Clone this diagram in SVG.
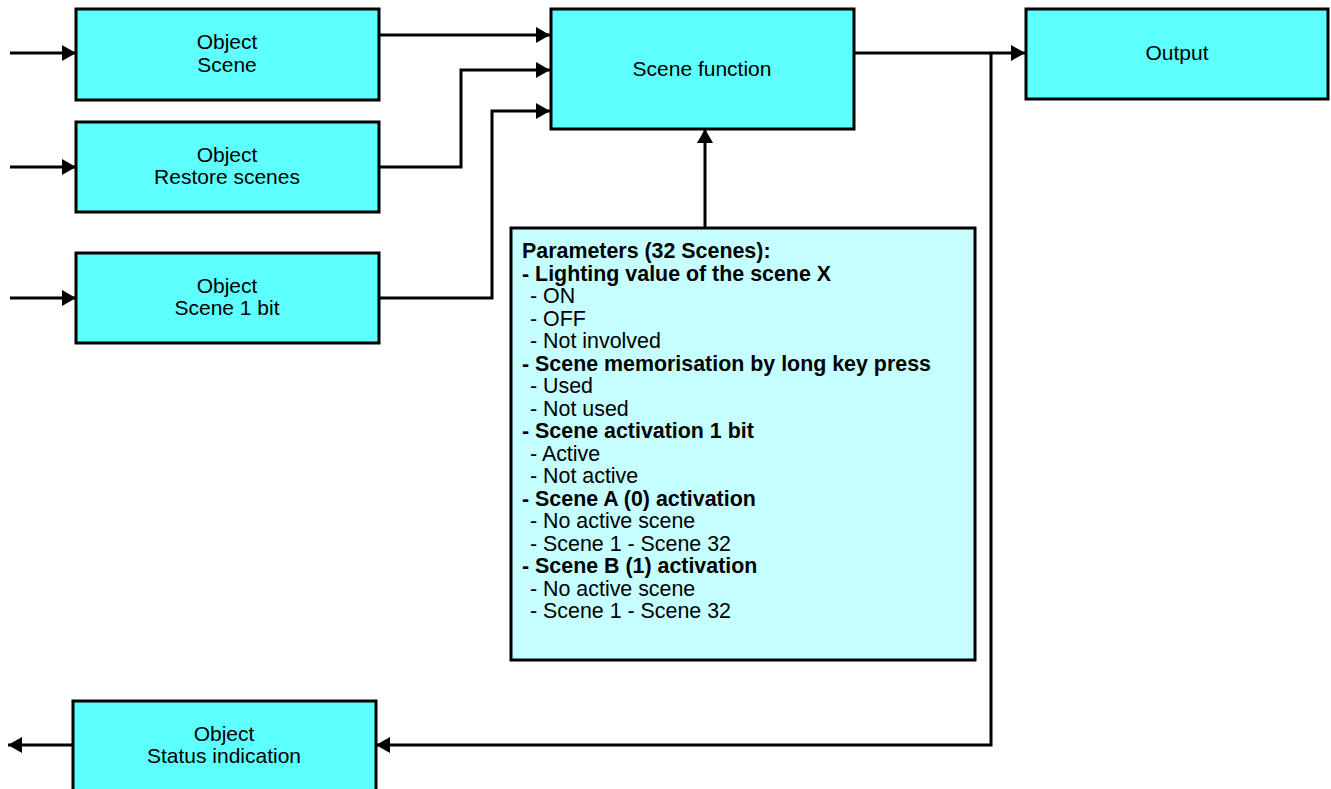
<svg xmlns="http://www.w3.org/2000/svg" width="1331" height="789" viewBox="0 0 1331 789">
<style>
.box{fill:#5effff;stroke:#000;stroke-width:3}
.pbox{fill:#c6ffff;stroke:#000;stroke-width:3}
.t{font-family:"Liberation Sans",Arial,Helvetica,sans-serif;font-size:21px;fill:#000;text-anchor:middle}
.p{font-family:"Liberation Sans",Arial,Helvetica,sans-serif;font-size:21.4px;fill:#000}
.b{font-weight:bold}
.c{fill:none;stroke:#000;stroke-width:3;marker-end:url(#ah)}
</style>
<defs>
<marker id="ah" viewBox="0 0 14 16" refX="14" refY="8" markerWidth="14" markerHeight="16" markerUnits="userSpaceOnUse" orient="auto">
<path d="M0,0 L14,8 L0,16 Z" fill="#000"/>
</marker>
</defs>
<rect width="1331" height="789" fill="#fff"/>
<g id="connectors">
<path class="c" d="M10,53 H76"/>
<path class="c" d="M10,167 H76"/>
<path class="c" d="M10,298 H76"/>
<path class="c" d="M379,35 H550"/>
<path class="c" d="M379,167 H461 V70 H550"/>
<path class="c" d="M379,298 H492 V111 H550"/>
<path class="c" d="M705,228 V129"/>
<path class="c" d="M854,53 H1025"/>
<path class="c" d="M991,53 V745 H376"/>
<path class="c" d="M73,745 H8"/>
</g>
<g id="obj-scene">
<rect class="box" x="76" y="9" width="303" height="91"/>
<text class="t" x="227" y="49">Object</text>
<text class="t" x="227" y="72">Scene</text>
</g>
<g id="obj-restore">
<rect class="box" x="76" y="122" width="303" height="90"/>
<text class="t" x="227" y="162">Object</text>
<text class="t" x="227" y="184">Restore scenes</text>
</g>
<g id="obj-scene1bit">
<rect class="box" x="76" y="253" width="303" height="90"/>
<text class="t" x="227" y="293">Object</text>
<text class="t" x="227" y="315">Scene 1 bit</text>
</g>
<g id="scene-function">
<rect class="box" x="551" y="9" width="303" height="120"/>
<text class="t" x="702" y="76">Scene function</text>
</g>
<g id="output">
<rect class="box" x="1026" y="9" width="302" height="90"/>
<text class="t" x="1177" y="60">Output</text>
</g>
<g id="parameters">
<rect class="pbox" x="511" y="228" width="464" height="432"/>
<text class="p b" x="522" y="258">Parameters (32 Scenes):</text>
<text class="p b" x="522" y="280.5">- Lighting value of the scene X</text>
<text class="p" x="530" y="303">- ON</text>
<text class="p" x="530" y="325.5">- OFF</text>
<text class="p" x="530" y="348">- Not involved</text>
<text class="p b" x="522" y="370.5">- Scene memorisation by long key press</text>
<text class="p" x="530" y="393">- Used</text>
<text class="p" x="530" y="415.5">- Not used</text>
<text class="p b" x="522" y="438">- Scene activation 1 bit</text>
<text class="p" x="530" y="460.5">- Active</text>
<text class="p" x="530" y="483">- Not active</text>
<text class="p b" x="522" y="505.5">- Scene A (0) activation</text>
<text class="p" x="530" y="528">- No active scene</text>
<text class="p" x="530" y="550.5">- Scene 1 - Scene 32</text>
<text class="p b" x="522" y="573">- Scene B (1) activation</text>
<text class="p" x="530" y="595.5">- No active scene</text>
<text class="p" x="530" y="618">- Scene 1 - Scene 32</text>
</g>
<g id="obj-status">
<rect class="box" x="73" y="701" width="303" height="100"/>
<text class="t" x="224" y="741">Object</text>
<text class="t" x="224" y="763">Status indication</text>
</g>
</svg>
